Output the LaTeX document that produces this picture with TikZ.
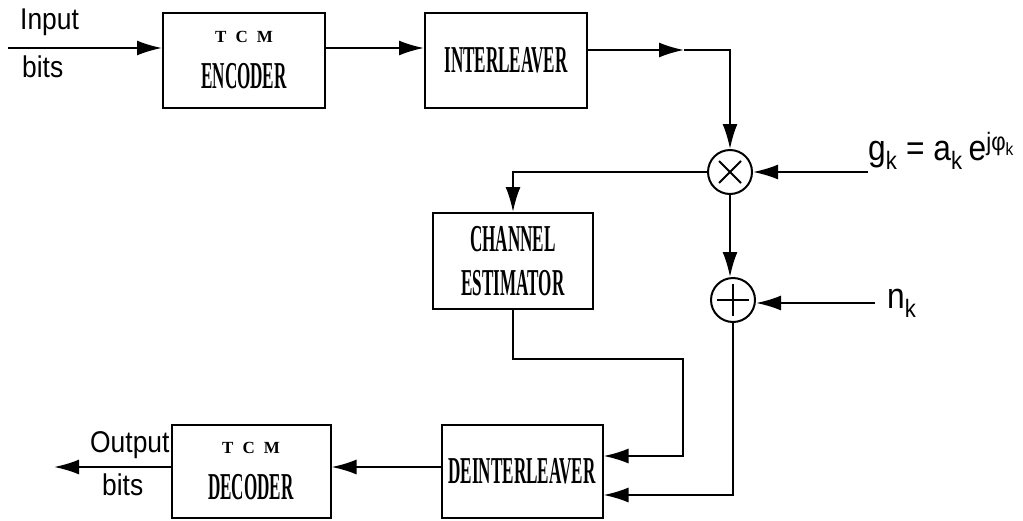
\documentclass[tikz,border=0pt]{standalone}
\usepackage{fontspec}
\setmainfont{Liberation Serif}
\newfontfamily\boxfont[FakeStretch=0.45]{Liberation Serif}
\newfontfamily\tcmfont{Liberation Serif}
\newfontfamily\lblfont[FakeStretch=0.88]{Liberation Sans}
\usetikzlibrary{arrows.meta}
\tikzset{
  blk/.style={draw, line width=2pt, minimum width=162pt, minimum height=95pt,
    inner sep=0pt, align=center, font=\boxfont\bfseries\fontsize{38}{44}\selectfont},
  op/.style={draw, circle, line width=2pt, minimum size=44pt, inner sep=0pt},
  wire/.style={line width=2pt},
  arr/.style={line width=2pt, -{Latex[length=25pt,width=15pt]}},
  lbl/.style={font=\lblfont\fontsize{30}{30}\selectfont, inner sep=0pt},
  eq/.style={font=\lblfont\fontsize{36}{36}\selectfont, inner sep=0pt}
}
\newcommand{\tcm}{{\tcmfont\bfseries\fontsize{17}{17}\selectfont T\hspace{9pt}C\hspace{9pt}M}}
\begin{document}
\begin{tikzpicture}[x=1pt,y=-1pt]
\useasboundingbox (0,0) rectangle (1023,520);
% blocks
\node[blk] (enc) at (244,60) {\tcm\\[2pt]ENCODER};
\node[blk] (int) at (506,60) {INTERLEAVER};
\node[blk, minimum width=160pt, minimum height=96pt] (chest) at (513,261) {CHANNEL\\ESTIMATOR};
\node[blk, minimum width=161pt, minimum height=93pt] (deint) at (522,471) {DEINTERLEAVER};
\node[blk, minimum width=159pt, minimum height=93pt] (dec) at (251,471) {\tcm\\[2pt]DECODER};
\node[op] (mult) at (730,172) {};
\node[op] (add) at (733,300) {};
\draw[wire] ([shift={(-11,-11)}]mult.center) -- ([shift={(11,11)}]mult.center);
\draw[wire] ([shift={(-11,11)}]mult.center) -- ([shift={(11,-11)}]mult.center);
\draw[wire] ([xshift=-16pt]add.center) -- ([xshift=16pt]add.center);
\draw[wire] ([yshift=-16pt]add.center) -- ([yshift=16pt]add.center);
% coordinates
\coordinate (in) at (8,48);
\coordinate (ya) at (0,48);
\coordinate (m1) at (684,50);
\coordinate (gk) at (868,172);
\coordinate (nk) at (875,303);
\coordinate (c2) at (683,359);
\coordinate (yd) at (0,456);
\coordinate (yc) at (0,495);
\coordinate (ye) at (0,467);
\coordinate (out) at (54,467);
% connectors
\draw[arr] (in) -- (enc.west |- ya);
\draw[arr] (enc.east |- ya) -- (int.west |- ya);
\draw[arr] (int.east |- m1) -- (m1);
\draw[arr] (m1) -| (mult.north);
\draw[arr] (gk) -- (mult.east);
\draw[arr] (mult.west) -| (chest.north);
\draw[arr] (mult.south) -- (mult.south |- add.north);
\draw[arr] (nk) -- (add.east |- nk);
\draw[arr] (add.south) |- (deint.east |- yc);
\draw[arr] (chest.south) |- (c2) |- (deint.east |- yd);
\draw[arr] (deint.west |- ye) -- (dec.east |- ye);
\draw[arr] (dec.west |- ye) -- (out);
% labels
\node[lbl, anchor=base west] (inl) at (20,29) {Input};
\node[lbl, anchor=base west] (inb) at (22,77) {bits};
\node[lbl, anchor=base west] (outl) at (90,452) {Output};
\node[lbl, anchor=base west] (outb) at (102,495) {bits};
\node[eq, anchor=base west] (gkl) at (868,160) {g\textsubscript{k} = a\textsubscript{k}\,e\textsuperscript{jφ\textsubscript{k}}};
\node[eq, anchor=base west] (nkl) at (887,308) {n\textsubscript{k}};
\end{tikzpicture}
\end{document}
